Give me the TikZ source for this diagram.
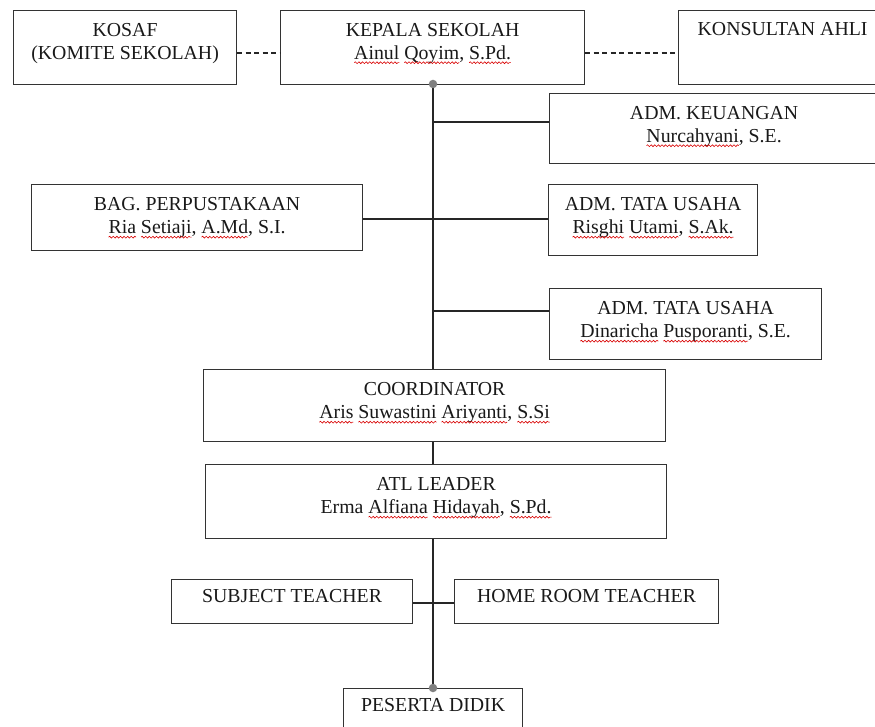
\documentclass[tikz,border=0pt]{standalone}
\usepackage{fontspec}
\setmainfont{Liberation Serif}
\usetikzlibrary{decorations.pathmorphing}
\newcommand\fs{\fontsize{19.8}{22.7}\selectfont}
\newcommand\sq[1]{\tikz[baseline=(sqw.base), x=1pt, y=1pt]{\node[inner sep=0pt, outer sep=0pt, anchor=base] (sqw) {#1};
  \draw[overlay, red!85!black, line width=0.6pt, decorate, decoration={snake, amplitude=0.9pt, segment length=3.6pt}] ([yshift=-3.6pt]sqw.base west) -- ([yshift=-3.6pt]sqw.base east);}}
\tikzset{
  box/.style={draw=black!80, line width=1.2pt, fill=white, anchor=north west, inner sep=0pt},
  txt/.style={anchor=north, inner sep=0pt, align=center, font=\fs, text=black!90},
  conn/.style={draw=black!85, line width=1.2pt},
  dashconn/.style={conn, dash pattern=on 5pt off 3.5pt},
  dotmark/.style={circle, fill=gray, inner sep=0pt, minimum size=8.5pt}
}
\begin{document}
\begin{tikzpicture}[x=1pt, y=-1pt]
\clip (0,0) rectangle (875,727);
\fill[white] (0,0) rectangle (875,727);

% junction coordinates
\coordinate (dk) at (0,53);
\coordinate (j1) at (433,122);
\coordinate (j2) at (433,219);
\coordinate (j3) at (433,311);
\coordinate (j4) at (433,603);
\coordinate (d1) at (433,84);
\coordinate (d2) at (433,688);

% boxes
\node[box, minimum width=223pt, minimum height=74pt] (kosaf) at (13,10) {};
\node[box, minimum width=304pt, minimum height=74pt] (kepala) at (280,10) {};
\node[box, minimum width=208pt, minimum height=74pt] (konsultan) at (678,10) {};
\node[box, minimum width=329pt, minimum height=70pt] (keu) at (549,93) {};
\node[box, minimum width=331pt, minimum height=66pt] (perpus) at (31,184) {};
\node[box, minimum width=209pt, minimum height=71pt] (tu1) at (548,184) {};
\node[box, minimum width=272pt, minimum height=71pt] (tu2) at (549,288) {};
\node[box, minimum width=462pt, minimum height=72pt] (coord) at (203,369) {};
\node[box, minimum width=461pt, minimum height=74pt] (atl) at (205,464) {};
\node[box, minimum width=241pt, minimum height=44pt] (subject) at (171,579) {};
\node[box, minimum width=264pt, minimum height=44pt] (home) at (454,579) {};
\node[box, minimum width=179pt, minimum height=72pt] (peserta) at (343,688) {};

% connectors
\draw[dashconn] (kosaf.east |- dk) -- (kepala.west |- dk);
\draw[dashconn] (kepala.east |- dk) -- (konsultan.west |- dk);
\draw[conn] (d1) -- (d1 |- coord.north);
\draw[conn] (d1 |- coord.south) -- (d1 |- atl.north);
\draw[conn] (d1 |- atl.south) -- (d2);
\draw[conn] (j1) -- (j1 -| keu.west);
\draw[conn] (perpus.east |- j2) -- (j2 -| tu1.west);
\draw[conn] (j3) -- (j3 -| tu2.west);
\draw[conn] (subject.east |- j4) -- (home.west |- j4);
\node[dotmark] (dot1) at (d1) {};
\node[dotmark] (dot2) at (d2) {};

% texts
\node[txt, yshift=-10.8pt] (kosafT) at (kosaf.north) {\strut KOSAF\\(KOMITE SEKOLAH)};
\node[txt, yshift=-10.3pt] (kepalaT) at (kepala.north) {\strut KEPALA SEKOLAH\\\sq{Ainul} \sq{Qoyim}, \sq{S.Pd.}};
\node[txt, yshift=-9.5pt] (konsultanT) at (konsultan.north) {\strut KONSULTAN AHLI};
\node[txt, yshift=-10.3pt] (keuT) at (keu.north) {\strut ADM. KEUANGAN\\\sq{Nurcahyani}, S.E.};
\node[txt, yshift=-10.8pt] (perpusT) at (perpus.north) {\strut BAG. PERPUSTAKAAN\\\sq{Ria} \sq{Setiaji}, \sq{A.Md}, S.I.};
\node[txt, yshift=-10.8pt] (tu1T) at (tu1.north) {\strut ADM. TATA USAHA\\\sq{Risghi} \sq{Utami}, \sq{S.Ak.}};
\node[txt, yshift=-10.8pt] (tu2T) at (tu2.north) {\strut ADM. TATA USAHA\\\sq{Dinaricha} \sq{Pusporanti}, S.E.};
\node[txt, yshift=-10.8pt] (coordT) at (coord.north) {\strut COORDINATOR\\\sq{Aris} \sq{Suwastini} \sq{Ariyanti}, \sq{S.Si}};
\node[txt, yshift=-10.8pt] (atlT) at (atl.north) {\strut ATL LEADER\\Erma \sq{Alfiana} \sq{Hidayah}, \sq{S.Pd.}};
\node[txt, yshift=-7.8pt] (subjectT) at (subject.north) {\strut SUBJECT TEACHER};
\node[txt, yshift=-7.8pt] (homeT) at (home.north) {\strut HOME ROOM TEACHER};
\node[txt, yshift=-7.8pt] (pesertaT) at (peserta.north) {\strut PESERTA DIDIK};
\end{tikzpicture}
\end{document}
